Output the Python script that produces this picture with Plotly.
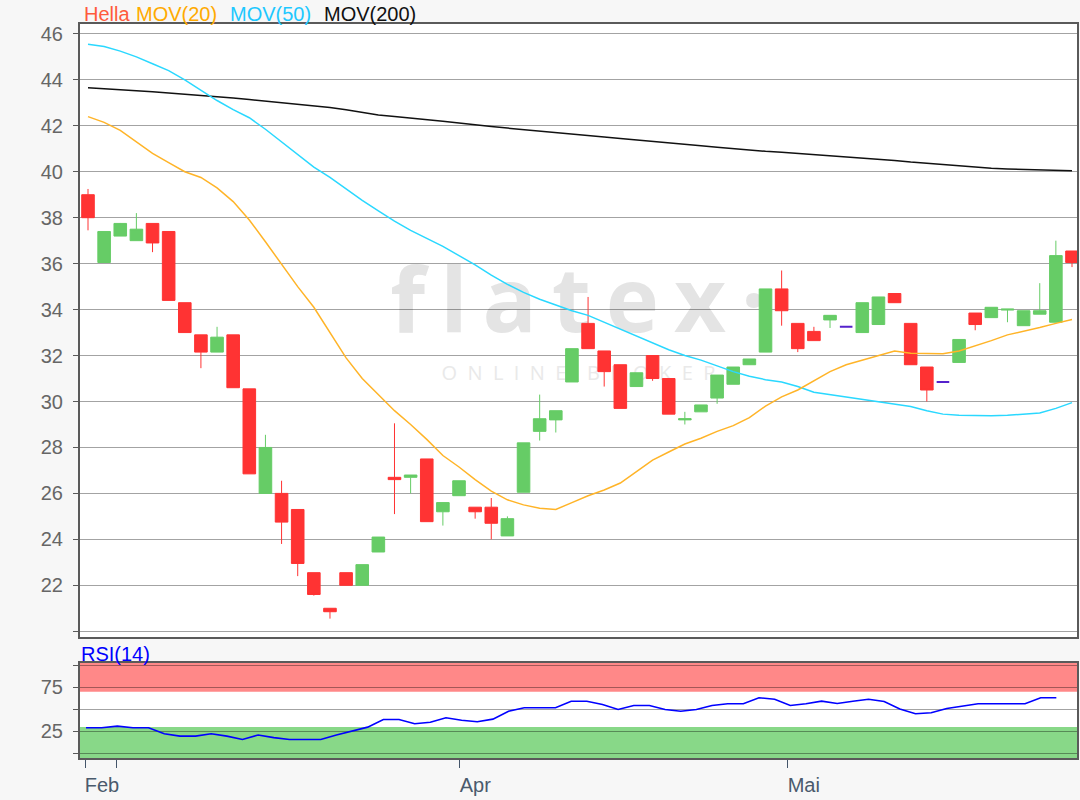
import plotly.graph_objects as go

# ---------------- data ----------------
opens = [39.0, 36.05, 37.2, 37.0, 37.75, 37.4, 34.3, 32.9, 32.15, 32.9,
         30.55, 26.0, 26.0, 25.3, 22.55, 21.0, 22.55, 22.0, 23.45, 26.7,
         26.7, 27.5, 25.2, 25.9, 25.4, 25.4, 24.15, 26.05, 28.7, 29.2,
         30.85, 33.4, 32.2, 31.6, 30.65, 32.0, 31.0, 29.2, 29.55, 30.15,
         30.75, 31.6, 32.15, 34.9, 33.4, 33.05, 33.55, 33.25, 33.0, 33.35,
         34.7, 33.4, 31.5, 30.85, 31.7, 33.85, 33.65, 33.98, 33.3, 33.8,
         33.45, 36.55]
highs = [39.25, 37.4, 37.77, 38.2, 37.75, 37.4, 34.3, 32.9, 33.25, 32.9,
         30.55, 28.55, 26.55, 25.3, 22.55, 21.0, 22.55, 22.9, 24.1, 29.05,
         26.8, 27.5, 25.6, 26.55, 25.4, 25.8, 25.0, 28.2, 30.3, 29.6,
         32.3, 34.55, 32.2, 31.6, 31.25, 32.0, 31.0, 29.55, 29.85, 31.15,
         31.5, 31.85, 34.9, 35.7, 33.4, 33.25, 33.75, 33.25, 34.3, 34.55,
         34.7, 33.4, 31.5, 30.85, 32.7, 33.85, 34.1, 34.02, 33.95, 35.15,
         37.0, 36.55]
lows = [37.45, 36.05, 37.2, 37.0, 36.5, 34.4, 33.0, 31.45, 32.15, 30.6,
        26.85, 26.0, 23.8, 22.4, 21.55, 20.55, 22.0, 22.0, 23.45, 25.1,
        26.0, 24.77, 24.6, 25.9, 24.9, 24.0, 24.15, 26.05, 28.3, 28.65,
        30.85, 32.3, 30.65, 29.7, 30.65, 30.9, 29.45, 29.0, 29.55, 29.9,
        30.75, 31.6, 32.15, 33.3, 32.15, 32.65, 33.2, 33.25, 33.0, 33.35,
        34.3, 31.6, 30.0, 30.85, 31.7, 33.1, 33.65, 33.45, 33.3, 33.8,
        33.45, 35.85]
closes = [38.0, 37.4, 37.75, 37.5, 36.9, 34.4, 33.0, 32.15, 32.8, 30.6,
          26.85, 28.0, 24.75, 22.95, 21.6, 20.85, 22.0, 22.9, 24.1, 26.6,
          26.8, 24.77, 25.6, 26.55, 25.2, 24.7, 24.9, 28.2, 29.25, 29.6,
          32.3, 32.3, 31.3, 29.7, 31.25, 31.0, 29.45, 29.25, 29.85, 31.15,
          31.5, 31.85, 34.9, 33.95, 32.3, 32.65, 33.75, 33.25, 34.3, 34.55,
          34.3, 31.6, 30.5, 30.85, 32.7, 33.35, 34.1, 34.02, 33.95, 33.95,
          36.35, 36.05]

mov20 = [42.4, 42.15, 41.8, 41.3, 40.8, 40.4, 40.0, 39.75, 39.3, 38.7,
         37.9, 36.95, 35.95, 35.0, 34.1, 33.0, 31.9, 31.0, 30.3, 29.6,
         29.0, 28.35, 27.65, 27.15, 26.6, 26.1, 25.72, 25.5, 25.35, 25.3,
         25.6, 25.9, 26.15, 26.45, 26.95, 27.45, 27.8, 28.15, 28.4, 28.7,
         28.95, 29.3, 29.8, 30.2, 30.5, 30.9, 31.3, 31.6, 31.8, 32.0,
         32.2, 32.1, 32.08, 32.08, 32.2, 32.42, 32.65, 32.9, 33.05, 33.22,
         33.4, 33.57]
mov50 = [45.55, 45.45, 45.25, 45.0, 44.7, 44.4, 44.0, 43.55, 43.1, 42.7,
         42.35, 41.85, 41.3, 40.75, 40.2, 39.75, 39.25, 38.75, 38.3, 37.85,
         37.45, 37.1, 36.75, 36.35, 35.95, 35.5, 35.1, 34.75, 34.45, 34.2,
         33.95, 33.75, 33.45, 33.15, 32.85, 32.55, 32.25, 32.0, 31.8, 31.55,
         31.3, 31.1, 30.95, 30.85, 30.65, 30.4, 30.3, 30.2, 30.1, 29.98,
         29.9, 29.78, 29.6, 29.45, 29.4, 29.38, 29.38, 29.4, 29.45, 29.5,
         29.7, 29.95]
mov200 = [43.65, 43.62, 43.58, 43.53, 43.48, 43.43, 43.38, 43.33, 43.27, 43.21,
          43.14, 43.07, 43.01, 42.95, 42.88, 42.8, 42.7, 42.58, 42.47, 42.4,
          42.34, 42.27, 42.2, 42.12, 42.03, 41.97, 41.9, 41.83, 41.77, 41.7,
          41.63, 41.57, 41.51, 41.45, 41.38, 41.32, 41.25, 41.19, 41.13, 41.07,
          41.0, 40.94, 40.89, 40.85, 40.8, 40.75, 40.7, 40.65, 40.6, 40.55,
          40.49, 40.42, 40.36, 40.3, 40.24, 40.19, 40.15, 40.12, 40.1, 40.08,
          40.06, 40.04]

rsi14 = [29.2, 29.2, 31.0, 29.2, 29.2, 22.4, 19.7, 19.7, 22.4, 19.7,
         15.9, 21.0, 18.0, 15.9, 15.9, 15.9, 21.0, 25.4, 29.9, 38.6,
         38.6, 33.7, 35.5, 40.5, 37.8, 36.0, 39.0, 48.0, 51.9, 51.9,
         51.9, 59.4, 59.4, 55.7, 50.0, 54.5, 54.5, 50.0, 48.0, 50.0,
         54.5, 56.4, 56.4, 63.3, 61.5, 54.5, 56.4, 59.4, 56.8, 59.4,
         61.5, 59.0, 50.5, 45.1, 46.3, 51.1, 53.6, 56.4, 56.4, 56.4,
         56.4, 63.3, 63.3]

price_ticks = [20, 22, 24, 26, 28, 30, 32, 34, 36, 38, 40, 42, 44, 46]
price_tick_labels = ["", "22", "24", "26", "28", "30", "32", "34", "36",
                     "38", "40", "42", "44", "46"]
rsi_ticks = [0, 25, 50, 75, 100]
rsi_tick_labels = ["", "25", "", "75", ""]
month_tick_pos = [0.0, 1.94, 23.85, 44.84]
month_tick_labels = ["Feb", "", "Apr", "Mai"]
rsi_overbought = 70
rsi_oversold = 30

# ---------------- styles ----------------
GREEN = "#66cc66"
RED = "#ff3333"
DOJI = "#5522cc"
FONT = "Liberation Sans, Arial, sans-serif"
FRAME = "#5a5a5a"
GRID = "rgba(0,0,0,0.36)"

days = list(range(len(closes)))
regular = [i for i in days if opens[i] != closes[i]]
doji = [i for i in days if opens[i] == closes[i]]

fig = go.Figure()

fig.add_trace(go.Candlestick(
    x=[days[i] for i in regular],
    open=[opens[i] for i in regular], high=[highs[i] for i in regular],
    low=[lows[i] for i in regular], close=[closes[i] for i in regular],
    increasing=dict(line=dict(color=GREEN, width=1), fillcolor=GREEN),
    decreasing=dict(line=dict(color=RED, width=1), fillcolor=RED),
    whiskerwidth=0, showlegend=False, hoverinfo="skip", xaxis="x", yaxis="y"))
fig.add_trace(go.Candlestick(
    x=[days[i] for i in doji],
    open=[opens[i] for i in doji], high=[highs[i] for i in doji],
    low=[lows[i] for i in doji], close=[closes[i] for i in doji],
    increasing=dict(line=dict(color=DOJI, width=2), fillcolor=DOJI),
    decreasing=dict(line=dict(color=DOJI, width=2), fillcolor=DOJI),
    whiskerwidth=0, showlegend=False, hoverinfo="skip", xaxis="x", yaxis="y"))

fig.add_trace(go.Scatter(x=days, y=mov200, mode="lines", line=dict(color="#111111", width=1.5),
                         showlegend=False, xaxis="x", yaxis="y"))
fig.add_trace(go.Scatter(x=days, y=mov50, mode="lines", line=dict(color="#2ad8ff", width=1.5),
                         showlegend=False, xaxis="x", yaxis="y"))
fig.add_trace(go.Scatter(x=days, y=mov20, mode="lines", line=dict(color="#ffb428", width=1.5),
                         showlegend=False, xaxis="x", yaxis="y"))

fig.add_trace(go.Scatter(x=list(range(len(rsi14))), y=rsi14, mode="lines",
                         line=dict(color="#0000ff", width=1.6),
                         showlegend=False, xaxis="x2", yaxis="y2"))

# RSI zones (below grid lines; the translucent grid darkens over them)
fig.add_shape(type="rect", xref="x2 domain", yref="y2", x0=0, x1=1, y0=rsi_overbought, y1=102.8,
              line=dict(width=0), fillcolor="#ff8888", layer="below")
fig.add_shape(type="rect", xref="x2 domain", yref="y2", x0=0, x1=1, y0=-5.2, y1=rsi_oversold,
              line=dict(width=0), fillcolor="#88d888", layer="below")

# watermark (behind data)
fig.add_shape(type="rect", xref="x domain", yref="y domain", x0=0.2, x1=0.8, y0=0.46, y1=0.63,
              line=dict(width=0), fillcolor="rgba(0,0,0,0)", layer="below",
              label=dict(text="f\u2009l\u2009a\u2009t\u2009e\u2009x\u2009\u00b7", textposition="middle center",
                         font=dict(size=90, color="#e4e4e4", family="Open Sans", weight="bold")))
fig.add_shape(type="rect", xref="x domain", yref="y domain", x0=0.2, x1=0.8, y0=0.40, y1=0.46,
              line=dict(width=0), fillcolor="rgba(0,0,0,0)", layer="below",
              label=dict(text="O\u00a0\u00a0N\u00a0\u00a0L\u00a0\u00a0I\u00a0\u00a0N\u00a0\u00a0E\u00a0\u00a0\u00a0\u00a0B\u00a0\u00a0R\u00a0\u00a0O\u00a0\u00a0K\u00a0\u00a0E\u00a0\u00a0R",
                         textposition="middle center",
                         font=dict(size=20, color="#e9e9e9", family="Open Sans")))

# header texts
PW = 997.0
PH = 734.0
def px_x(px):
    return (px - 80) / PW
def px_y(py):
    return (758 - py) / PH

for txt, col, xp in [("Hella", "#ff5a3c", 82), ("MOV(20)", "#ffaa00", 134),
                     ("MOV(50)", "#1ec8ff", 228), ("MOV(200)", "#111111", 322)]:
    fig.add_annotation(text=txt, xref="paper", yref="paper", x=px_x(xp), y=px_y(14),
                       xanchor="left", yanchor="middle", showarrow=False,
                       font=dict(size=20, color=col, family=FONT))
fig.add_annotation(text="RSI(14)", xref="paper", yref="paper", x=px_x(79), y=px_y(654),
                   xanchor="left", yanchor="middle", showarrow=False,
                   font=dict(size=20, color="#0000ff", family=FONT))

fig.update_layout(
    width=1080, height=800,
    margin=dict(l=80, r=3, t=24, b=42, autoexpand=False),
    paper_bgcolor="#f7f7f7", plot_bgcolor="#ffffff",
    boxgap=0.22, boxgroupgap=0,
    showlegend=False,
    xaxis=dict(domain=[0, 1], anchor="y", range=[-0.496, 61.31],
               showticklabels=False, ticks="", showgrid=False, zeroline=False,
               showline=True, mirror=True, linecolor=FRAME, linewidth=2,
               rangeslider=dict(visible=False), automargin=False),
    yaxis=dict(domain=[0.16485, 1], anchor="x", range=[19.75, 46.43],
               tickmode="array", tickvals=price_ticks, ticktext=price_tick_labels,
               showgrid=True, gridcolor=GRID, gridwidth=1, zeroline=False,
               ticks="outside", ticklen=5, tickcolor=FRAME, ticklabelstandoff=6,
               showline=True, mirror=True, linecolor=FRAME, linewidth=2, automargin=False,
               tickfont=dict(size=20, color="#666666", family=FONT)),
    xaxis2=dict(domain=[0, 1], anchor="y2", range=[-0.383, 63.32],
                tickmode="array", tickvals=month_tick_pos, ticktext=month_tick_labels,
                ticks="outside", ticklen=8, tickcolor="#44556a", ticklabelshift=16,
                showgrid=False, zeroline=False, automargin=False,
                showline=True, mirror=True, linecolor=FRAME, linewidth=2,
                tickfont=dict(size=20, color="#4a5a6c", family=FONT)),
    yaxis2=dict(domain=[0, 0.12943], anchor="x2", range=[-5.2, 102.8],
                tickmode="array", tickvals=rsi_ticks, ticktext=rsi_tick_labels,
                showgrid=True, gridcolor=GRID, gridwidth=1, zeroline=False,
                ticks="outside", ticklen=5, tickcolor=FRAME, ticklabelstandoff=6,
                showline=True, mirror=True, linecolor=FRAME, linewidth=2, automargin=False,
                tickfont=dict(size=20, color="#666666", family=FONT)),
)

fig.write_html("out.html", config={"displayModeBar": False},
               post_script="document.body.style.margin='0px';document.body.style.background='#f7f7f7';")
